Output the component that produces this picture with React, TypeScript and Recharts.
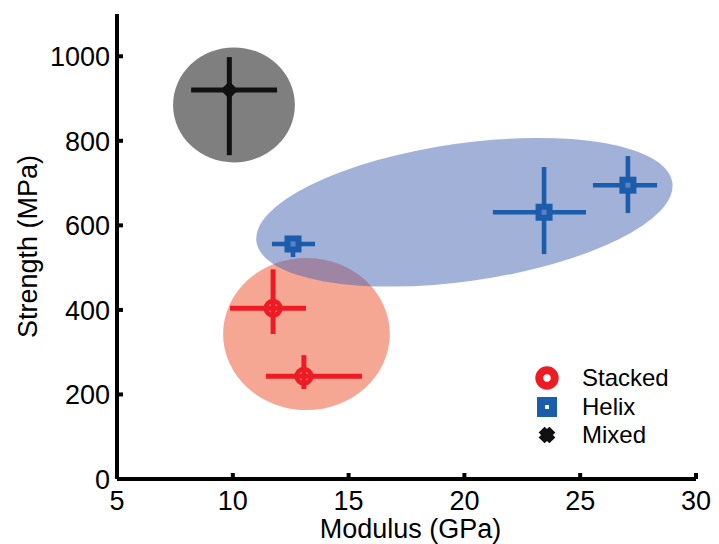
import React from "react";
import { ScatterChart, Scatter, XAxis, YAxis, ErrorBar, ReferenceArea, Legend } from "recharts";

const FONT = '"Liberation Sans", Arial, Helvetica, sans-serif';
const RED = "#ED1C24";
const BLUE = "#1B5DAA";
const BLACK = "#111111";

const xTicks = [5, 10, 15, 20, 25, 30];
const yTicks = [0, 200, 400, 600, 800, 1000];

const seriesNames = ["Stacked", "Helix", "Mixed"];

// modulus (GPa), strength (MPa), errors as [below, above]
const stackedModulus = [11.74, 13.07];
const stackedStrength = [404, 243];
const stackedModulusErr = [[1.86, 1.42], [1.64, 2.51]];
const stackedStrengthErr = [[61, 92], [30, 50]];

const helixModulus = [12.6, 23.44, 27.06];
const helixStrength = [556, 631, 695];
const helixModulusErr = [[0.91, 0.95], [2.21, 1.81], [1.51, 1.26]];
const helixStrengthErr = [[31, 15], [99, 107], [66, 69]];

const mixedModulus = [9.85];
const mixedStrength = [920];
const mixedModulusErr = [[1.65, 2.06]];
const mixedStrengthErr = [[154, 78]];

// shaded group envelopes: centre and semi-axes in data units
const cloudCx = [13.18, 20.0, 10.05];
const cloudCy = [343, 631, 885];
const cloudRx = [3.6, 9.07, 2.63];
const cloudRy = [180, 163, 136];
const cloudTilt = [0, -8.1, 0];
const cloudFill = ["#EE4F29", "#4363B1", "#000000"];

const toRows = (xs: number[], ys: number[], exs: number[][], eys: number[][]) =>
  xs.map((x, i) => ({ x, y: ys[i], ex: exs[i], ey: eys[i] }));

const stackedData = toRows(stackedModulus, stackedStrength, stackedModulusErr, stackedStrengthErr);
const helixData = toRows(helixModulus, helixStrength, helixModulusErr, helixStrengthErr);
const mixedData = toRows(mixedModulus, mixedStrength, mixedModulusErr, mixedStrengthErr);

function saltire(cx: number, cy: number, L: number, w: number) {
  const pts = [
    [-w, -L], [w, -L], [w, -w], [L, -w], [L, w], [w, w],
    [w, L], [-w, L], [-w, w], [-L, w], [-L, -w], [-w, -w],
  ];
  const r = Math.SQRT1_2;
  return (
    "M" +
    pts.map(([px, py]) => `${cx + (px - py) * r},${cy + (px + py) * r}`).join("L") +
    "Z"
  );
}

const StackedMark = (p: any) => (
  <circle cx={p.cx} cy={p.cy} r={7.2} fill="none" stroke={RED} strokeWidth={4.6} />
);
const HelixMark = (p: any) => (
  <g>
    <rect x={p.cx - 8.5} y={p.cy - 8.5} width={17} height={17} fill={BLUE} />
    <rect x={p.cx - 2.5} y={p.cy - 2.5} width={5} height={5} fill="#5B82C4" />
  </g>
);
const MixedMark = (p: any) => <path d={saltire(p.cx, p.cy, 6.2, 3.4)} fill={BLACK} />;

const cloudShape = (fill: string, tilt: number) => (p: any) => {
  const cx = p.x + p.width / 2;
  const cy = p.y + p.height / 2;
  return (
    <ellipse
      cx={cx}
      cy={cy}
      rx={Math.abs(p.width) / 2}
      ry={Math.abs(p.height) / 2}
      fill={fill}
      fillOpacity={0.5}
      transform={`rotate(${tilt} ${cx} ${cy})`}
    />
  );
};

const XTick = (p: any) => (
  <g>
    <line x1={p.x} y1={p.y} x2={p.x} y2={p.y - 6} stroke="#000" strokeWidth={4} />
    <text x={p.x} y={p.y + 31} textAnchor="middle" fontSize={27} fontFamily={FONT} fill="#000">
      {p.payload.value}
    </text>
  </g>
);

const YTick = (p: any) => (
  <g>
    <line x1={p.x} y1={p.y} x2={p.x + 6} y2={p.y} stroke="#000" strokeWidth={4} />
    <text x={p.x - 7} y={p.y} dy="0.36em" textAnchor="end" fontSize={27} fontFamily={FONT} fill="#000">
      {p.payload.value}
    </text>
  </g>
);

const XTitle = (p: any) => {
  const vb = p.viewBox;
  return (
    <text x={vb.x + vb.width / 2 + 4} y={vb.y + 59} textAnchor="middle" fontSize={27} fontFamily={FONT} fill="#000">
      Modulus (GPa)
    </text>
  );
};

const YTitle = (p: any) => {
  const vb = p.viewBox;
  const cy = vb.y + vb.height / 2;
  return (
    <text x={37} y={cy} transform={`rotate(-90 37 ${cy})`} textAnchor="middle" fontSize={27} fontFamily={FONT} fill="#000">
      Strength (MPa)
    </text>
  );
};

const legendMarks = [
  <circle cx={17} cy={14} r={7.7} fill="#fff" stroke={RED} strokeWidth={8} />,
  <g>
    <rect x={7} y={4} width={20} height={20} fill={BLUE} />
    <rect x={15} y={12} width={4} height={4} fill="#fff" />
  </g>,
  <path d={saltire(17, 14, 7.6, 4.2)} fill={BLACK} />,
];

const LegendBox = () => (
  <div style={{ fontFamily: FONT, fontSize: 24, color: "#000" }}>
    {seriesNames.map((name, i) => (
      <div key={name} style={{ display: "flex", alignItems: "center", height: 28.5 }}>
        <svg width={34} height={28} style={{ display: "block" }}>
          {legendMarks[i]}
        </svg>
        <span style={{ marginLeft: 18, lineHeight: "28px" }}>{name}</span>
      </div>
    ))}
  </div>
);

export default function App() {
  return (
    <div style={{ position: "absolute", left: 0, top: 0, width: 719, height: 544, background: "#fff" }}>
      <ScatterChart width={719} height={544} margin={{ top: 14, right: 23, bottom: 0, left: 0 }}>
        <XAxis
          type="number"
          dataKey="x"
          domain={[5, 30]}
          ticks={xTicks}
          interval={0}
          allowDataOverflow
          height={65}
          axisLine={{ stroke: "#000", strokeWidth: 4 }}
          tickLine={false}
          tickSize={0}
          tickMargin={0}
          tick={<XTick />}
          label={XTitle}
        />
        <YAxis
          type="number"
          dataKey="y"
          domain={[0, 1100]}
          ticks={yTicks}
          interval={0}
          allowDataOverflow
          width={117}
          axisLine={{ stroke: "#000", strokeWidth: 4 }}
          tickLine={false}
          tickSize={0}
          tickMargin={0}
          tick={<YTick />}
          label={YTitle}
        />
        {cloudCx.map((cx, i) => (
          <ReferenceArea
            key={seriesNames[i]}
            x1={cx - cloudRx[i]}
            x2={cx + cloudRx[i]}
            y1={cloudCy[i] - cloudRy[i]}
            y2={cloudCy[i] + cloudRy[i]}
            shape={cloudShape(cloudFill[i], cloudTilt[i])}
            ifOverflow="visible"
          />
        ))}
        <Scatter name="Stacked" data={stackedData} shape={StackedMark} isAnimationActive={false}>
          <ErrorBar dataKey="ex" direction="x" width={0} stroke={RED} strokeWidth={5} isAnimationActive={false} />
          <ErrorBar dataKey="ey" direction="y" width={0} stroke={RED} strokeWidth={5} isAnimationActive={false} />
        </Scatter>
        <Scatter name="Helix" data={helixData} shape={HelixMark} isAnimationActive={false}>
          <ErrorBar dataKey="ex" direction="x" width={0} stroke={BLUE} strokeWidth={4.6} isAnimationActive={false} />
          <ErrorBar dataKey="ey" direction="y" width={0} stroke={BLUE} strokeWidth={4.6} isAnimationActive={false} />
        </Scatter>
        <Scatter name="Mixed" data={mixedData} shape={MixedMark} isAnimationActive={false}>
          <ErrorBar dataKey="ex" direction="x" width={0} stroke={BLACK} strokeWidth={5} isAnimationActive={false} />
          <ErrorBar dataKey="ey" direction="y" width={0} stroke={BLACK} strokeWidth={5} isAnimationActive={false} />
        </Scatter>
        <Legend
          layout="horizontal"
          verticalAlign="middle"
          align="center"
          content={<LegendBox />}
          wrapperStyle={{ left: 530, top: 364, width: 170 }}
        />
      </ScatterChart>
    </div>
  );
}
